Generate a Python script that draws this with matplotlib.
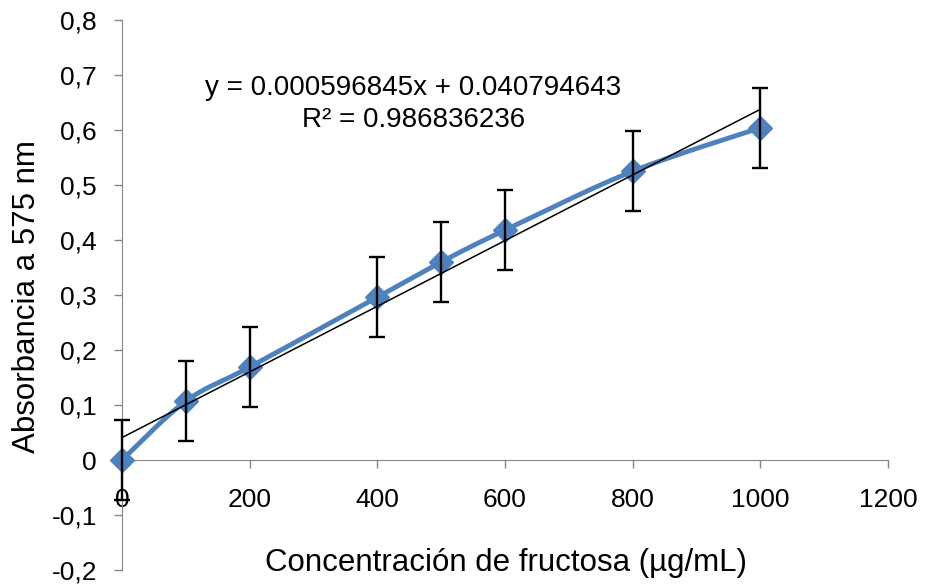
import numpy as np
import matplotlib.pyplot as plt
from matplotlib.ticker import FuncFormatter

plt.rcParams['font.family'] = ['Liberation Sans', 'DejaVu Sans']

# data
conc = [0, 100, 200, 400, 500, 600, 800, 1000]
absorb = [0.0, 0.107, 0.169, 0.296, 0.360, 0.418, 0.525, 0.604]
err = [0.073, 0.073, 0.073, 0.073, 0.073, 0.073, 0.073, 0.073]
slope = 0.000596845
intercept = 0.040794643
r2 = 0.986836236

xlim = (0, 1200)
ylim = (-0.2, 0.8)


def smooth(x, y, n=30):
    # Excel style smoothed line (cardinal bezier), done in axis-normalised space
    px = (np.array(x, float) - xlim[0]) / (xlim[1] - xlim[0]) * 766
    py = (np.array(y, float) - ylim[0]) / (ylim[1] - ylim[0]) * 550
    P = np.column_stack([px, py])
    out = []
    for i in range(len(P) - 1):
        p0 = P[i - 1] if i > 0 else P[i]
        p1, p2 = P[i], P[i + 1]
        p3 = P[i + 2] if i + 2 < len(P) else P[i + 1]
        c1 = p1 + (p2 - p0) / 6
        c2 = p2 - (p3 - p1) / 6
        t = np.linspace(0, 1, n)[:, None]
        seg = (1 - t) ** 3 * p1 + 3 * (1 - t) ** 2 * t * c1 + 3 * (1 - t) * t ** 2 * c2 + t ** 3 * p2
        out.append(seg)
    S = np.vstack(out)
    sx = S[:, 0] / 766 * (xlim[1] - xlim[0]) + xlim[0]
    sy = S[:, 1] / 550 * (ylim[1] - ylim[0]) + ylim[0]
    return sx, sy


def fmt(v, pos):
    if abs(v) < 1e-9:
        return '0'
    return ('%.1f' % v).replace('.', ',')


fig = plt.figure(figsize=(9.27, 5.85), dpi=100)
ax = fig.add_axes([122 / 927, 15 / 585, 766 / 927, 550 / 585])

sx, sy = smooth(conc, absorb)
ax.plot(sx, sy, color='#4F81BD', lw=3.5, zorder=3, solid_capstyle='round', clip_on=False)
ax.plot(conc, absorb, 'D', color='#4F81BD', ms=12, zorder=4, clip_on=False)
eb = ax.errorbar(conc, absorb, yerr=err, fmt='none', ecolor='black', elinewidth=1.7,
                 capsize=6, capthick=1.7, zorder=5)
for art in eb.lines[1] + eb.lines[2]:
    art.set_clip_on(False)

tx = np.array([0, 1000])
ax.plot(tx, slope * tx + intercept, color='black', lw=1.1, zorder=4)

ax.text(456, 0.676, 'y = 0.000596845x + 0.040794643', ha='center', va='center', fontsize=20)
ax.text(456, 0.618, 'R² = %.9f' % r2, ha='center', va='center', fontsize=20)

ax.set_xlim(*xlim)
ax.set_ylim(*ylim)
ax.set_xticks([0, 200, 400, 600, 800, 1000, 1200])
ax.set_yticks(np.arange(-0.2, 0.81, 0.1))
ax.yaxis.set_major_formatter(FuncFormatter(fmt))

for s in ['top', 'right']:
    ax.spines[s].set_visible(False)
ax.spines['bottom'].set_position(('data', 0))
ax.spines['left'].set_color('#868686')
ax.spines['bottom'].set_color('#868686')
ax.tick_params(axis='both', colors='#868686', labelcolor='black', labelsize=19, length=6, width=1)
ax.tick_params(axis='x', pad=14)
ax.tick_params(axis='y', pad=12)

ax.set_xlabel('Concentración de fructosa (µg/mL)', fontsize=22.5)
ax.xaxis.set_label_coords(0.5 + (506 - 505) / 766, (585 - 563 - 15) / 550)
ax.xaxis.label.set_va('center')
ax.set_ylabel('Absorbancia a 575 nm', fontsize=22.5)
ax.yaxis.set_label_coords(-(122 - 27) / 766, (570 - 297) / 550)
ax.yaxis.label.set_va('center')

fig.savefig('out.png', dpi=100)
